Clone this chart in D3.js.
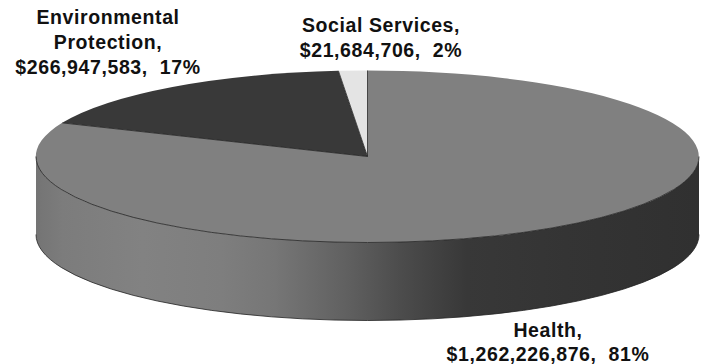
<!DOCTYPE html>
<html>
<head>
<meta charset="utf-8">
<style>
html,body{margin:0;padding:0;background:#fff}
svg{display:block}
text{font-family:"Liberation Sans",Arial,sans-serif;font-weight:bold;font-size:19.5px;letter-spacing:0.6px;fill:#111;text-anchor:middle;white-space:pre}
</style>
<script src="https://cdn.jsdelivr.net/npm/d3@7/dist/d3.min.js"></script>
</head>
<body>
<script>
// Program budget by area, in dollars
const categories = ["Health", "Environmental Protection", "Social Services"];
const amounts = [1262226876, 266947583, 21684706];
const sliceColors = ["#808080", "#393939", "#e4e4e4"];
const labelLines = [
  ["Health,", "$1,262,226,876,  81%"],
  ["Environmental", "Protection,", "$266,947,583,  17%"],
  ["Social Services,", "$21,684,706,  2%"]
];
const labelAnchors = [[548, 337], [108, 24], [381, 31.5]];
const labelLeading = [24, 25, 25];
const wallStops = [
  [0, "#747474"], [0.04, "#7c7c7c"], [0.16, "#828282"], [0.28, "#7e7e7e"], [0.36, "#767676"],
  [0.47, "#606060"], [0.55, "#4c4c4c"], [0.65, "#383838"], [0.8, "#343434"], [1, "#303030"]
];

const width = 701, height = 364;
const cx = 367.5, cy = 156.5, rx = 331.5, ry = 86, depth = 78;

const svg = d3.select("body").append("svg").attr("width", width).attr("height", height);

const gradient = svg.append("defs").append("linearGradient")
  .attr("id", "wall").attr("x1", 0).attr("x2", 1).attr("y1", 0).attr("y2", 0);
gradient.selectAll("stop").data(wallStops).join("stop")
  .attr("offset", d => d[0]).attr("stop-color", d => d[1]);

const pie = d3.pie().sort(null).startAngle(0).endAngle(2 * Math.PI);
const slices = pie(amounts);

// Point on the tilted disc rim; angle 0 is at the top and runs clockwise
const rimX = a => cx + rx * Math.sin(a);
const rimY = a => cy - ry * Math.cos(a);

const frontStart = Math.PI / 2, frontEnd = 3 * Math.PI / 2;
const upperRim = `M${rimX(frontStart)},${rimY(frontStart)} A${rx},${ry} 0 0 1 ${rimX(frontEnd)},${rimY(frontEnd)}`;
const lowerRim = `M${rimX(frontStart)},${rimY(frontStart) + depth} A${rx},${ry} 0 0 1 ${rimX(frontEnd)},${rimY(frontEnd) + depth}`;

// Front wall of the disc, closed between the upper and lower rims
const wallD = [
  upperRim,
  `L${rimX(frontEnd)},${rimY(frontEnd) + depth}`,
  `A${rx},${ry} 0 0 0 ${rimX(frontStart)},${rimY(frontStart) + depth}`,
  "Z"
].join(" ");
svg.append("path").attr("d", wallD).attr("fill", "url(#wall)");

// Top face: a unit-circle pie squashed into an ellipse
const arc = d3.arc().innerRadius(0).outerRadius(1);
svg.append("g")
  .attr("transform", `translate(${cx},${cy}) scale(${rx},${ry})`)
  .selectAll("path").data(slices).join("path")
  .attr("d", arc)
  .attr("fill", (d, i) => sliceColors[i]);

// Thin dark edges: the two visible rims and the slice boundaries
svg.append("g").attr("fill", "none").attr("stroke", "#222").attr("stroke-width", 0.8)
  .selectAll("path")
  .data([upperRim, lowerRim, ...slices.slice(1).map(s => `M${cx},${cy} L${rimX(s.startAngle)},${rimY(s.startAngle)}`),
         `M${cx},${cy} L${rimX(0)},${rimY(0)}`])
  .join("path")
  .attr("d", d => d);

// Data labels
svg.append("g").selectAll("text").data(labelLines).join("text")
  .attr("transform", (d, i) => `translate(${labelAnchors[i][0]},${labelAnchors[i][1]})`)
  .each(function (lines, i) {
    d3.select(this).selectAll("tspan").data(lines).join("tspan")
      .attr("x", 0)
      .attr("y", (l, j) => j * labelLeading[i])
      .text(l => l);
  });
</script>
</body>
</html>
